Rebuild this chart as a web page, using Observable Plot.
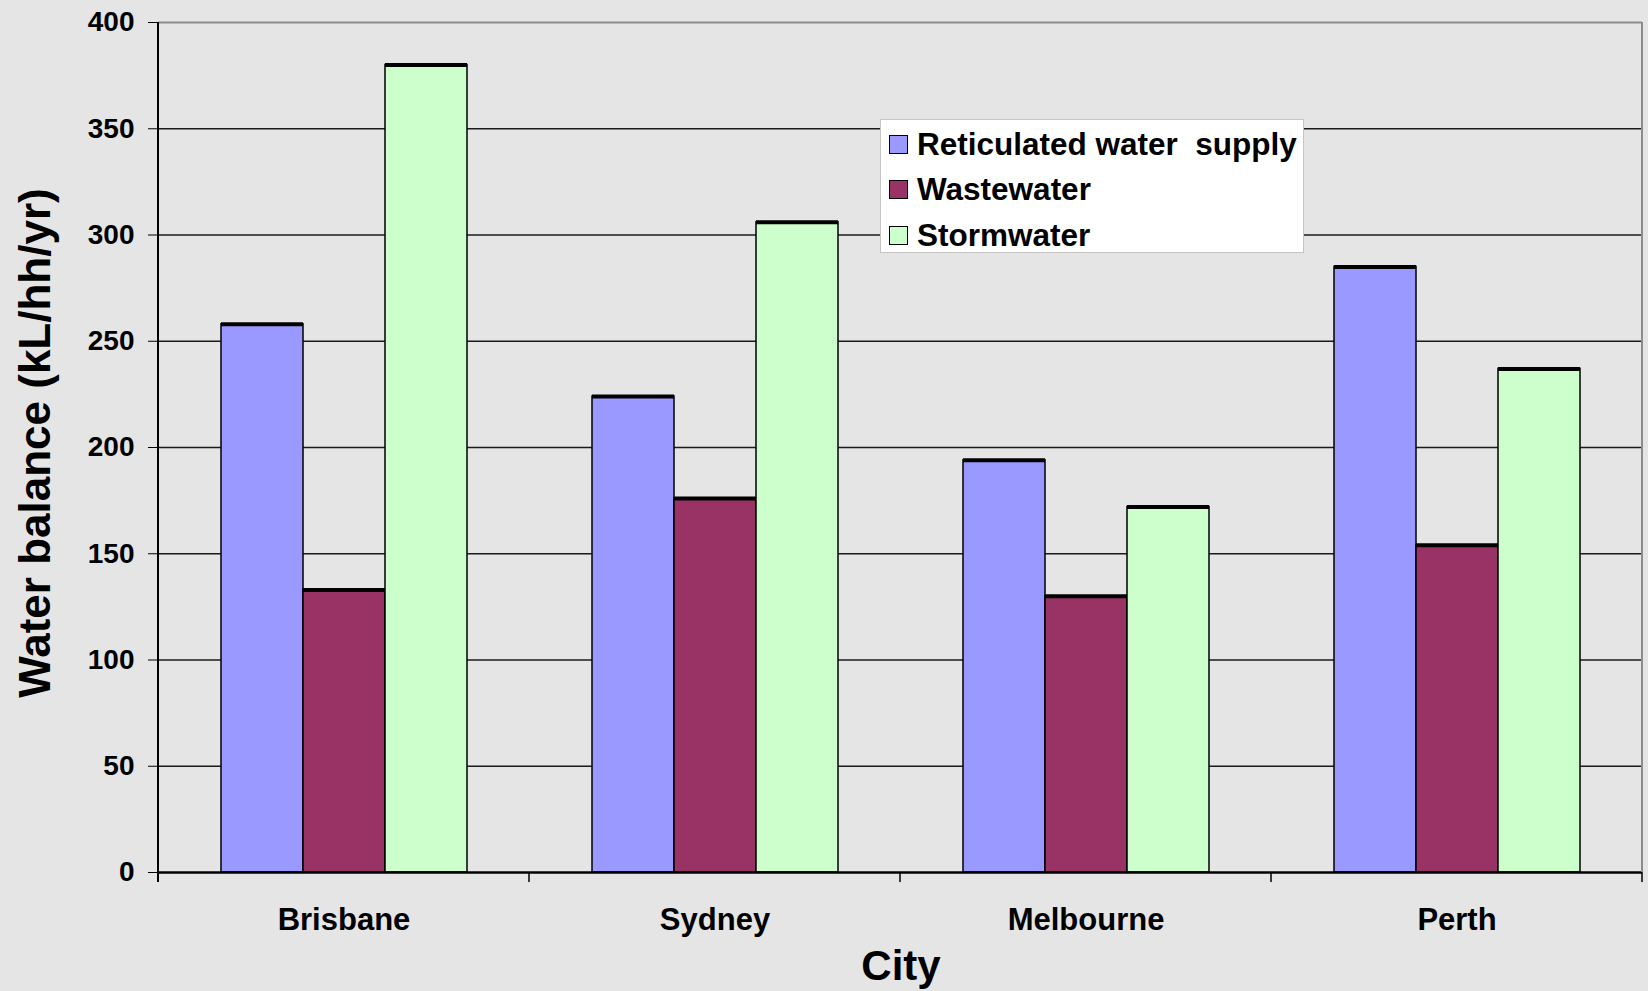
<!DOCTYPE html>
<html>
<head>
<meta charset="utf-8">
<script src="https://cdn.jsdelivr.net/npm/d3@7"></script>
<script src="https://cdn.jsdelivr.net/npm/@observablehq/plot@0.6"></script>
<style>
  html, body { margin: 0; padding: 0; background: #e5e5e5; }
  #wrap { position: relative; width: 1648px; height: 991px; overflow: hidden;
          font-family: "Liberation Sans", Arial, sans-serif; font-weight: bold; color: #000; }
  #wrap svg [aria-label^="y-axis"] text { font-size: 28px; }
  #wrap svg [aria-label^="fx-axis"] text { font-size: 31px; }
  .title { position: absolute; white-space: nowrap; line-height: 1; }
  #ytitle { font-size: 44px; left: 34.5px; top: 443px; transform: translate(-50%, -50%) rotate(-90deg); }
  #xtitle { font-size: 42px; left: 901px; top: 944.5px; transform: translateX(-50%); }
  #legend { position: absolute; left: 880px; top: 119px; width: 424px; height: 134px;
            background: #fff; border: 1px solid #c4c4c4; box-sizing: border-box; }
  .item { position: absolute; left: 8px; height: 30px; display: flex; align-items: center;
          font-size: 31.5px; white-space: pre; }
  .sw { width: 17px; height: 17px; border: 1.5px solid #000; margin-right: 9px; flex: none; }
</style>
</head>
<body>
<div id="wrap"></div>
<script>
const cities = ["Brisbane", "Sydney", "Melbourne", "Perth"];
const series = ["Reticulated water  supply", "Wastewater", "Stormwater"];
const reticulated = [258, 224, 194, 285];
const wastewater = [133, 176, 130, 154];
const stormwater = [380, 306, 172, 237];
const seriesColors = ["#9999ff", "#993366", "#ccffcc"];
const yTicks = [0, 50, 100, 150, 200, 250, 300, 350, 400];
const yTitle = "Water balance (kL/hh/yr)";
const xTitle = "City";

const values = [reticulated, wastewater, stormwater];
const rows = [];
cities.forEach((c, i) => series.forEach((s, j) => rows.push({city: c, series: s, value: values[j][i]})));

const plot = Plot.plot({
  width: 1648,
  height: 991,
  marginLeft: 157,
  marginRight: 5,
  marginTop: 22,
  marginBottom: 119,
  style: {background: "#e5e5e5", color: "#000", fontFamily: "'Liberation Sans', Arial, sans-serif", fontWeight: "bold", fontSize: "28px", overflow: "visible"},
  fx: {domain: cities, padding: 0, label: null, tickSize: 0, tickPadding: 35, axis: "bottom"},
  x: {domain: series, axis: null, paddingInner: 0, paddingOuter: 0.75},
  y: {domain: [0, 400], ticks: yTicks, tickSize: 10, tickPadding: 14, label: null},
  color: {domain: series, range: seriesColors},
  marks: [
    Plot.ruleY(yTicks.filter(d => d > 0 && d < 400), {stroke: "#1a1a1a", strokeWidth: 1.3}),
    Plot.ruleY([400], {stroke: "#8c8c8c", strokeWidth: 2}),
    Plot.barY(rows, {fx: "city", x: "series", y: "value", fill: "series", stroke: "#000", strokeWidth: 1.5}),
    Plot.tickY(rows, {fx: "city", x: "series", y: "value", stroke: "#000", strokeWidth: 4}),
    Plot.ruleY([0], {stroke: "#000", strokeWidth: 2.5})
  ]
});

const wrap = document.getElementById("wrap");
wrap.appendChild(plot);

// Excel-style axis line, category boundary ticks and right frame edge, using Plot's scales
const fx = plot.scale("fx");
const ys = plot.scale("y");
const y0 = ys.apply(0), yTop = ys.apply(400);
const edges = cities.map(c => fx.apply(c));
edges.push(fx.apply(cities[cities.length - 1]) + fx.bandwidth);
const g = d3.select(plot).append("g");
g.append("line").attr("x1", edges[edges.length - 1]).attr("x2", edges[edges.length - 1])
  .attr("y1", yTop).attr("y2", y0).attr("stroke", "#8c8c8c").attr("stroke-width", 2);
g.append("line").attr("x1", edges[0]).attr("x2", edges[0])
  .attr("y1", yTop).attr("y2", y0 + 10).attr("stroke", "#000").attr("stroke-width", 2);
g.selectAll(null).data(edges).join("line")
  .attr("x1", d => d).attr("x2", d => d).attr("y1", y0).attr("y2", y0 + 10)
  .attr("stroke", "#000").attr("stroke-width", 1.5);

// Titles
const yt = document.createElement("div");
yt.className = "title"; yt.id = "ytitle"; yt.textContent = yTitle;
wrap.appendChild(yt);
const xt = document.createElement("div");
xt.className = "title"; xt.id = "xtitle"; xt.textContent = xTitle;
wrap.appendChild(xt);

// Legend
const legend = document.createElement("div");
legend.id = "legend";
const rowTops = [9, 54, 100];
series.forEach((s, i) => {
  const it = document.createElement("div");
  it.className = "item";
  it.style.top = rowTops[i] + "px";
  const sw = document.createElement("span");
  sw.className = "sw";
  sw.style.background = seriesColors[i];
  const tx = document.createElement("span");
  tx.textContent = s;
  it.appendChild(sw); it.appendChild(tx);
  legend.appendChild(it);
});
wrap.appendChild(legend);
</script>
</body>
</html>
